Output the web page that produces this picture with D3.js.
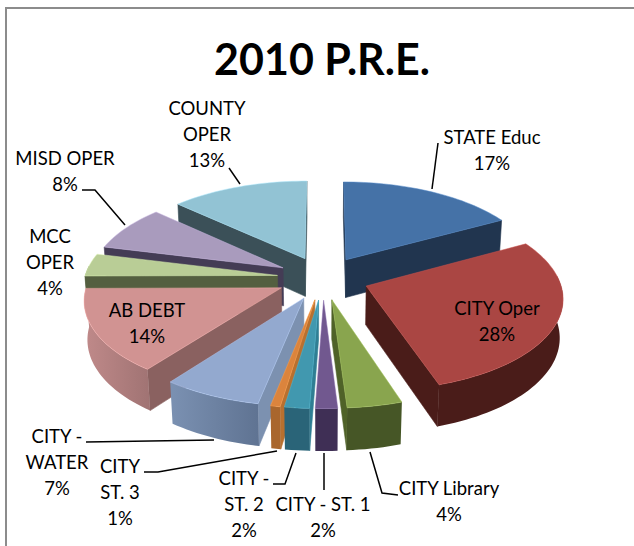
<!DOCTYPE html>
<html><head><meta charset="utf-8">
<script src="https://cdn.jsdelivr.net/npm/d3@7"></script>
<style>html,body{margin:0;padding:0;background:#fff}svg{display:block}text{font-family:Lato,"Open Sans",sans-serif;fill:#000}</style>
</head><body><svg id="c" width="634" height="546"></svg>
<script>
const categories=["STATE Educ","CITY Oper","CITY Library","CITY - ST. 1","CITY - ST. 2","CITY ST. 3","CITY - WATER","AB DEBT","MCC OPER","MISD OPER","COUNTY OPER"];
const values=[17,28,4,1.6,1.8,0.7,7.2,14.6,4,8,13.1];
const percentLabels=["17%","28%","4%","2%","2%","1%","7%","14%","4%","8%","13%"];
const topColors=["#4572a7","#aa4643","#89a54e","#71588f","#4198af","#db843d","#93a9cf","#d19392","#b9cd96","#a99bbd","#92c3d4"];
const sideLeft=["#21354f","#4a1c19","#465626","#3f2f55","#2a6478","#a9662d","#7b91b2","#c08a8a","#545f40","#443c55","#3b5058"];
const sideRight=["#21354f","#4a1c19","#465626","#3f2f55","#2a6478","#a9662d","#5f7392","#a07373","#545f40","#443c55","#3b5058"];
const wallColors=["#21354f","#4a1c19","#4f6228","#3f2f55","#2f7e93","#b8702f","#7c91b0","#8a6160","#545f40","#443c55","#3b5058"];
const labelLines=[["STATE Educ"],["CITY Oper"],["CITY Library"],["CITY - ST. 1"],["CITY -","ST. 2"],["CITY","ST. 3"],["CITY -","WATER"],["AB DEBT"],["MCC","OPER"],["MISD OPER"],["COUNTY","OPER"]];
const labelAnchors=[[492,144],[497,315],[449,495],[323,511],[244,485],[120,473],[57,443],[147,317],[50,243],[65,165],[207,115]];
const leaderPaths=[[[438,143],[432,189]],null,[[370,452],[382,493],[398,495]],[[324,453],[324,490]],[[296,453],[285,484],[273,484]],[[277,451],[158,472],[144,472]],[[214,440],[86,442]],null,null,[[125,225],[95,190],[82,190]],[[240,184],[229,168]]];

const cx=323,cy=278,R=193,explode=46,thick=44,elev=28*Math.PI/180,D=1500;
const svg=d3.select("#c");
const defs=svg.append("defs");
svg.append("path").attr("d",d3.line()([[6,546],[6,8],[634,8]])).attr("fill","none").attr("stroke","#8c8c8c").attr("stroke-width",2);
svg.append("text").attr("x",322).attr("y",75).attr("text-anchor","middle").attr("font-size",43).attr("font-weight",700).text("2010 P.R.E.");

function project(X,Y,Z){const v=Y*Math.sin(elev)-Z*Math.cos(elev),w=Y*Math.cos(elev)+Z*Math.sin(elev),s=D/(D-w);return [cx+X*s,cy+v*s];}
const pie=d3.pie().sort(null)(values);
const line=d3.line();
const slices=pie.map((a,i)=>{const mid=(a.startAngle+a.endAngle)/2;return {a,i,mid,ox:explode*Math.sin(mid),oy:-explode*Math.cos(mid)};});
const order=slices.slice().sort((p,q)=>(-Math.cos(p.mid))-(-Math.cos(q.mid)));
const g=svg.append("g");
order.forEach(s=>{
  const {a,i,ox,oy}=s;
  const pt=(ang,r,z)=>project(ox+r*Math.sin(ang),oy-r*Math.cos(ang),z);
  const n=Math.max(4,Math.ceil((a.endAngle-a.startAngle)/0.03));
  const angs=d3.range(n+1).map(k=>a.startAngle+(a.endAngle-a.startAngle)*k/n);
  const G=g.append("g").attr("class","slice");
  const face=(p,col)=>{ if(d3.polygonArea(p)<=0) return; G.append("path").attr("d",line(p)+"Z").attr("fill",col).attr("stroke",col).attr("stroke-width",.6);};
  face([pt(a.startAngle,0,0),pt(a.startAngle,R,0),pt(a.startAngle,R,-thick),pt(a.startAngle,0,-thick)],wallColors[i]);
  face([pt(a.endAngle,R,0),pt(a.endAngle,0,0),pt(a.endAngle,0,-thick),pt(a.endAngle,R,-thick)],wallColors[i]);
  const vis=angs.filter(t=>Math.cos(t)<0.12);
  if(vis.length>1){
    const poly=[...vis.map(t=>pt(t,R,0)),...vis.slice().reverse().map(t=>pt(t,R,-thick))];
    const ex=d3.extent(poly,p=>p[0]);
    const id="wall"+i;
    const gr=defs.append("linearGradient").attr("id",id).attr("gradientUnits","userSpaceOnUse").attr("x1",ex[0]).attr("x2",ex[1]).attr("y1",0).attr("y2",0);
    gr.append("stop").attr("offset",0).attr("stop-color",sideLeft[i]);
    gr.append("stop").attr("offset",1).attr("stop-color",sideRight[i]);
    G.append("path").attr("d",line(poly)+"Z").attr("fill",`url(#${id})`);
  }
  const top=[pt(a.startAngle,0,0),...angs.map(t=>pt(t,R,0))];
  G.append("path").attr("d",line(top)+"Z").attr("fill",topColors[i]).attr("stroke",d3.color(topColors[i]).brighter(.5)).attr("stroke-width",.5);
});
leaderPaths.forEach(p=>{ if(p) svg.append("path").attr("d",line(p)).attr("fill","none").attr("stroke","#000").attr("stroke-width",1.5);});
categories.forEach((c,i)=>{
  const lines=[...labelLines[i],percentLabels[i]];
  const t=svg.append("text").attr("text-anchor","middle").attr("font-size",18.5);
  lines.forEach((l,k)=>t.append("tspan").attr("x",labelAnchors[i][0]).attr("y",labelAnchors[i][1]+k*26).text(l));
});
</script></body></html>
